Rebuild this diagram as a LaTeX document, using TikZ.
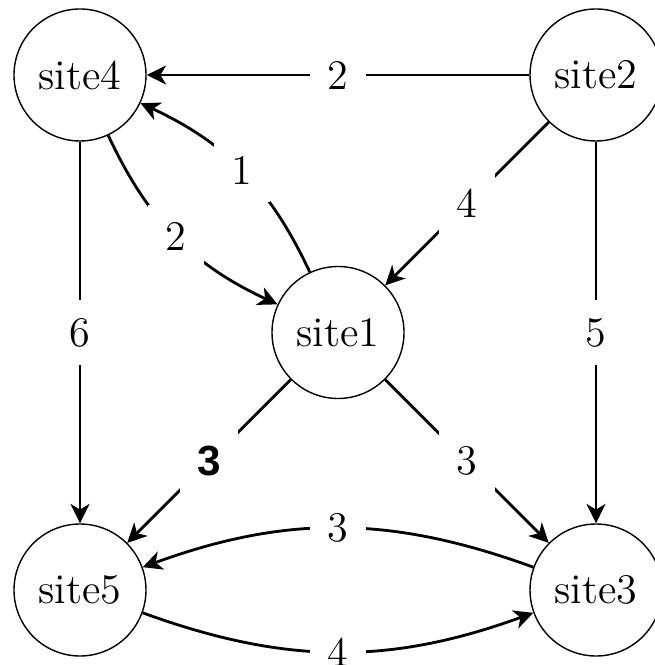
\documentclass[tikz,border=0pt]{standalone}
\usepackage{fontspec}
\usepackage{tikz}
\usetikzlibrary{positioning}
\usetikzlibrary{arrows.meta}
\usetikzlibrary{automata}
\newfontfamily\labelsans{Liberation Sans}

\begin{document}
\begin{tikzpicture}[
            > = {Stealth[length=5.5pt, width=5.4pt, inset=1.6pt]}, % arrow head style
            on grid, % distances between centres
            thick % line style
            ]

        \tikzstyle{every state}=[
            draw,
            thin,
            fill = white,
            inner sep = 0pt,
            minimum size = 1.32cm,
            font = \large
        ]
        \tikzstyle{lbl}=[
            fill = white,
            inner sep = 5pt,
            font = \large
        ]

        \useasboundingbox (-0.80,-5.90) rectangle (5.74,0.75);

	% corner sites
	\node[state] (site4) {site4};
	\node[state] (site2) [right = 5.16cm of site4] {site2};
	\node[state] (site5) [below = 5.15cm of site4] {site5};
	\node[state] (site3) [below = 5.15cm of site2] {site3};

	% centre site
	\node[state] (site1) [below right = 2.575cm and 2.58cm of site4] {site1};

	% straight links
	\path[->] (site2) edge node[lbl] {2} (site4);
	\path[->] (site4) edge node[lbl] {6} (site5);
	\path[->] (site2) edge node[lbl] {5} (site3);
	\path[->] (site2) edge node[lbl] {4} (site1);
	\path[->] (site1) edge node[lbl] {{\labelsans\bfseries 3}} (site5);
	\path[->] (site1) edge node[lbl] {3} (site3);

	% bent links
	\path[->] (site1) edge[bend right = 20] node[lbl] {1} (site4);
	\path[->] (site4) edge[bend right = 20] node[lbl] {2} (site1);
	\path[->] (site3) edge[bend right = 20] node[lbl] {3} (site5);
	\path[->] (site5) edge[bend right = 20] node[lbl] {4} (site3);

\end{tikzpicture}
\end{document}
